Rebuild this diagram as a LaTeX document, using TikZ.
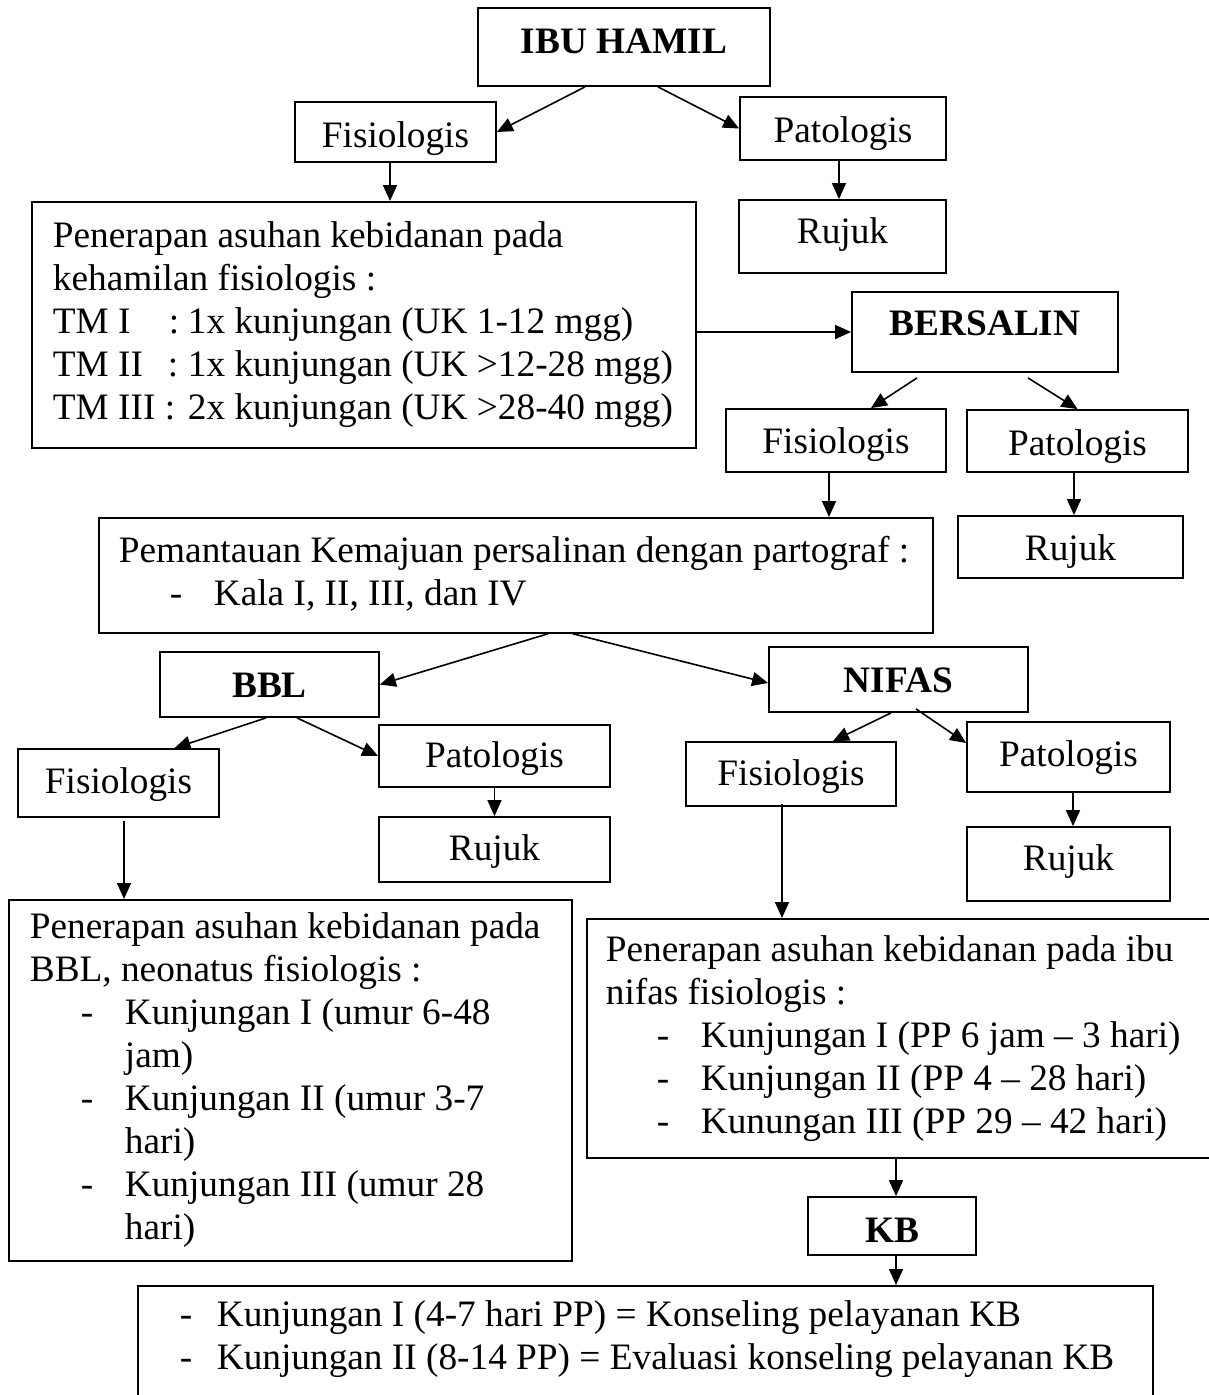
\documentclass[tikz,border=0pt]{standalone}
\usepackage{fontspec}
\setmainfont{Liberation Serif}
\usetikzlibrary{arrows.meta,calc}
\newcommand\myfs{\fontsize{37.3}{43}\selectfont}
\newcommand\Lx[1]{\strut\spaceskip=0pt\xspaceskip=0pt\mbox{#1}}
\newcommand\itm{\hspace*{51pt}\makebox[44pt][l]{-}}
\newcommand\ctn{\hspace*{95pt}}
\begin{document}
\begin{tikzpicture}[x=1pt,y=-1pt,
  box/.style={draw, line width=1.8pt, inner sep=0pt, font=\myfs, text height=30pt},
  bbox/.style={box, font=\myfs\bfseries},
  txtbox/.style={draw, line width=1.8pt, inner ysep=0pt, font=\myfs, align=left, anchor=north west},
  arr/.style={line width=1.6pt, -{Triangle[length=16pt,width=14pt]}}]
\useasboundingbox (0,0) rectangle (1208,1395);

% single-line boxes
\node[bbox, minimum width=292pt, minimum height=78pt, text depth=18pt] (ibu) at (624,47) {IBU HAMIL};
\node[box, minimum width=201pt, minimum height=60pt, text depth=0pt] (fis1) at (395.5,132) {Fisiologis};
\node[box, minimum width=206pt, minimum height=63pt, text depth=3pt] (pat1) at (843,128.5) {Patologis};
\node[box, minimum width=207pt, minimum height=73pt, text depth=17pt] (rujuk1) at (842.5,236.5) {Rujuk};
\node[bbox, minimum width=266pt, minimum height=80pt, text depth=24pt] (bersalin) at (985,332) {BERSALIN};
\node[box, minimum width=220pt, minimum height=63pt, text depth=5pt] (fis2) at (836,440.5) {Fisiologis};
\node[box, minimum width=221pt, minimum height=62pt, text depth=2pt] (pat2) at (1077.5,441) {Patologis};
\node[box, minimum width=225pt, minimum height=62pt, text depth=4pt] (rujuk2) at (1070.5,547) {Rujuk};
\node[bbox, minimum width=219pt, minimum height=65pt, text depth=5pt] (bbl) at (269.5,684.5) {BBL};
\node[bbox, minimum width=259pt, minimum height=65pt, text depth=5pt] (nifas) at (898.5,679.5) {NIFAS};
\node[box, minimum width=201pt, minimum height=68pt, text depth=10pt] (fis3) at (118.5,783) {Fisiologis};
\node[box, minimum width=231pt, minimum height=62pt, text depth=8pt] (pat3) at (494.5,756) {Patologis};
\node[box, minimum width=231pt, minimum height=65pt, text depth=9pt] (rujuk3) at (494.5,849.5) {Rujuk};
\node[box, minimum width=210pt, minimum height=64pt, text depth=8pt] (fis4) at (791,774) {Fisiologis};
\node[box, minimum width=203pt, minimum height=70pt, text depth=12pt] (pat4) at (1068.5,757) {Patologis};
\node[box, minimum width=203pt, minimum height=74pt, text depth=18pt] (rujuk4) at (1068.5,864) {Rujuk};
\node[bbox, minimum width=168pt, minimum height=58pt, text height=32pt, text depth=0pt] (kb) at (892,1226) {KB};

% multi-line boxes
\node[txtbox, inner xsep=21pt, text width=622pt, minimum height=246pt] (tm) at (31,201)
  {\Lx{Penerapan asuhan kebidanan pada}\\
   \Lx{kehamilan fisiologis :}\\
   \Lx{\makebox[135pt][l]{\makebox[116pt][l]{TM I}:}1x kunjungan (UK 1-12 mgg)}\\
   \Lx{\makebox[135pt][l]{\makebox[115pt][l]{TM II}:}1x kunjungan (UK >12-28 mgg)}\\
   \Lx{\makebox[135pt][l]{TM III :}2x kunjungan (UK >28-40 mgg)}};
\node[txtbox, inner xsep=20pt, text width=794pt, minimum height=115pt] (pem) at (98,517)
  {\Lx{Pemantauan Kemajuan persalinan dengan partograf :}\\
   \Lx{\itm Kala I, II, III, dan IV}};
\node[txtbox, inner xsep=21pt, text width=521pt, minimum height=361pt] (bblt) at (8,899)
  {\Lx{Penerapan asuhan kebidanan pada}\\
   \Lx{BBL, neonatus fisiologis :}\\
   \Lx{\itm Kunjungan I (umur 6-48}\\
   \Lx{\ctn jam)}\\
   \Lx{\itm Kunjungan II (umur 3-7}\\
   \Lx{\ctn hari)}\\
   \Lx{\itm Kunjungan III (umur 28}\\
   \Lx{\ctn hari)}};
\node[txtbox, inner xsep=19pt, text width=591pt, minimum height=239pt] (nift) at (586,918)
  {\Lx{Penerapan asuhan kebidanan pada ibu}\\
   \Lx{nifas fisiologis :}\\
   \Lx{\itm Kunjungan I (PP 6 jam – 3 hari)}\\
   \Lx{\itm Kunjungan II (PP 4 – 28 hari)}\\
   \Lx{\itm Kunungan III (PP 29 – 42 hari)}};
\node[txtbox, inner xsep=0pt, inner ysep=10pt, text width=1015pt] (kbt) at (137,1285)
  {\Lx{\hspace*{42pt}\makebox[37pt][l]{-}Kunjungan I (4-7 hari PP) = Konseling pelayanan KB}\\
   \Lx{\hspace*{42pt}\makebox[37pt][l]{-}Kunjungan II (8-14 PP) = Evaluasi konseling pelayanan KB}\\
   \strut\\ \strut};

% connectors
\coordinate (a1) at ([xshift=-39pt]ibu.south);
\draw[arr] (a1) -- (fis1.east);
\coordinate (a2) at ([xshift=34pt]ibu.south);
\draw[arr] (a2) -- (pat1.west);
\coordinate (a3) at ([xshift=-5.5pt]fis1.south);
\draw[arr] (a3) -- (a3 |- tm.north);
\coordinate (a4) at ([xshift=-4pt]pat1.south);
\draw[arr] (a4) -- (a4 |- rujuk1.north);
\draw[arr] (tm.east |- bersalin.west) -- (bersalin.west);
\coordinate (a6) at ([xshift=-68pt,yshift=-5pt]bersalin.south);
\coordinate (b6) at ([xshift=35pt]fis2.north);
\draw[arr] (a6) -- (b6);
\coordinate (a7) at ([xshift=43pt,yshift=-5pt]bersalin.south);
\draw[arr] (a7) -- (pat2.north);
\coordinate (a8) at ([xshift=-7pt]fis2.south);
\draw[arr] (a8) -- (a8 |- pem.north);
\coordinate (a9) at ([xshift=-3.5pt]pat2.south);
\draw[arr] (a9) -- (a9 |- rujuk2.north);
\coordinate (a10) at ([xshift=32pt]pem.south);
\draw[arr] (a10) -- (bbl.east);
\coordinate (a11) at ([xshift=57pt]pem.south);
\coordinate (b11) at ([yshift=-3.5pt]nifas.west);
\draw[arr] (a11) -- (b11);
\coordinate (a12) at ([xshift=-3.5pt]bbl.south);
\coordinate (b12) at ([xshift=56pt]fis3.north);
\draw[arr] (a12) -- (b12);
\coordinate (a13) at ([xshift=27.5pt]bbl.south);
\draw[arr] (a13) -- (pat3.west);
\draw[arr] (pat3.south) -- (rujuk3.north);
\coordinate (a15) at ([xshift=5.5pt,yshift=-3pt]fis3.south);
\draw[arr] (a15) -- (a15 |- bblt.north);
\coordinate (a16) at ([xshift=-7.5pt]nifas.south);
\coordinate (b16) at ([xshift=42pt]fis4.north);
\draw[arr] (a16) -- (b16);
\coordinate (a17) at ([xshift=17.5pt,yshift=4pt]nifas.south);
\coordinate (b17) at ([yshift=14pt]pat4.west);
\draw[arr] (a17) -- (b17);
\coordinate (a18) at ([xshift=4.5pt]pat4.south);
\draw[arr] (a18) -- (a18 |- rujuk4.north);
\coordinate (a19) at ([xshift=-9pt,yshift=3pt]fis4.south);
\draw[arr] (a19) -- (a19 |- nift.north);
\coordinate (a20) at ([xshift=4pt]kb.north);
\draw[arr] (a20 |- nift.south) -- (a20);
\coordinate (a21) at ([xshift=4pt]kb.south);
\draw[arr] (a21) -- (a21 |- kbt.north);
\end{tikzpicture}
\end{document}
